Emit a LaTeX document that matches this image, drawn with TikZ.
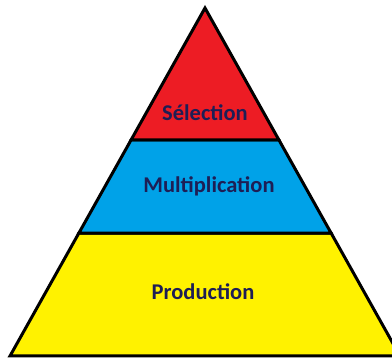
\documentclass[tikz,border=0pt]{standalone}
\usepackage{fontspec}
\setmainfont{Carlito}
\usetikzlibrary{calc, positioning}
\definecolor{my_red}{RGB}{237, 28, 36}
\definecolor{my_blue}{RGB}{0, 162, 232}
\definecolor{my_yellow}{RGB}{255, 242, 0}
\definecolor{my_navy}{RGB}{30, 30, 85}
\tikzset {
  band/.style = {draw=black, line width=3pt, line join=miter},
  level/.style = {text=my_navy, font=\bfseries\fontsize{22.5}{26}\selectfont, inner sep=0pt}
}

\begin{document}
\begin{tikzpicture}[x=1pt, y=-1pt]

    \path[use as bounding box, clip] (0,0) rectangle (392,358);
    \fill[white] (0,0) rectangle (392,358);

    \coordinate (apex) at (205,8);
    \coordinate (bl) at (10,356);
    \coordinate (br) at (400,356);
    \coordinate (l1) at ($(apex)!0.379!(bl)$);
    \coordinate (r1) at ($(apex)!0.379!(br)$);
    \coordinate (l2) at ($(apex)!0.647!(bl)$);
    \coordinate (r2) at ($(apex)!0.647!(br)$);

    \draw[band, fill=my_yellow] (l2) -- (r2) -- (br) -- (bl) -- cycle;
    \draw[band, fill=my_blue] (l1) -- (r1) -- (r2) -- (l2) -- cycle;
    \draw[band, fill=my_red] (apex) -- (r1) -- (l1) -- cycle;

    \node[level] (selection) at (205,113) {Sélection};
    \node[level] (multiplication) at (209,186) {Multiplication};
    \node[level] (production) at (203,292) {Production};

  \end{tikzpicture}
\end{document}
